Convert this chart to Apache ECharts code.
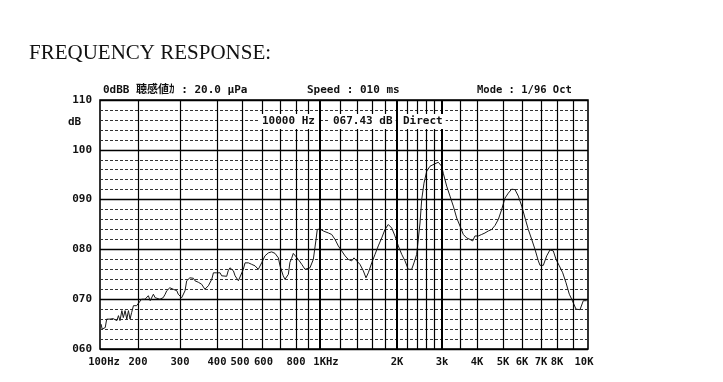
<!DOCTYPE html>
<html><head><meta charset="utf-8">
<script src="https://cdn.jsdelivr.net/npm/echarts@6/dist/echarts.min.js"></script>
<style>html,body{margin:0;padding:0;background:#fff}#c{width:723px;height:382px}</style>
</head><body><div id="c"></div>
<script>
// Printed x scale of the analyzer chart (labelled ticks and their place on the 0-100 scale)
const tickFreqs = [100,200,300,400,500,600,800,1000,2000,3000,4000,5000,6000,7000,8000,10000];
const tickLabels = ['100Hz','200','300','400','500','600','800','1KHz','2K','3k','4K','5K','6K','7K','8K','10K'];
const tickScale = [0,7.79,16.39,23.98,29.10,33.20,40.16,45.08,60.86,70.08,77.25,82.58,86.48,90.37,93.65,100];
// vertical grid lines (Hz)
const gridFreqs = [200,300,400,500,600,700,800,900,1000,1200,1400,1600,1800,2000,2200,2400,2600,2800,3000,3500,4000,5000,6000,7000,8000,9000];
const heavyFreqs = [1000,2000,3000];
// y ticks
const yTicks = [60,70,80,90,100,110];

// measured response (Hz, dB)
const freqs = [102,104,110,113,120,127,136,140,144,149,153,158,163,168,173,178,184,195,201,
207,211,214,218,221,225,232,236,240,247,251,255,260,264,272,277,281,286,291,295,300,
304,308,312,316,324,329,333,337,342,346,355,360,364,369,374,384,389,394,399,
405,411,417,423,436,442,449,456,463,470,477,484,491,
506,514,522,530,546,563,580,589,598,
615,633,651,670,680,689,699,709,718,729,739,750,760,771,782,793,
817,844,870,884,911,940,964,975,1000,
1030,1078,1111,1145,1179,1216,1253,1290,1330,1358,1391,1433,1477,1513,1545,1593,1641,1690,1743,1795,1849,1907,1964,
2024,2087,2149,2214,2234,2283,2331,2388,2423,2461,2499,2551,2614,2693,2817,2902,2992,
3032,3118,3204,3292,3386,3479,3575,3676,3777,3860,3934,
4045,4165,4284,4407,4538,4668,4802,4944,
5097,5261,5435,5610,5791,5983,
6148,6314,6491,6667,6849,6944,
7136,7341,7545,7756,7934,
8133,8335,8535,8741,8893,8995,9173,9440,9556,9667,9786,9906];
const levels = [65.0,64.0,64.3,66.0,66.0,66.1,65.7,66.7,65.7,67.7,66.3,67.7,66.0,67.7,66.0,67.3,68.7,68.7,69.0,
70.0,69.7,70.0,70.1,70.7,69.7,71.0,70.3,70.1,70.0,69.7,70.3,71.0,71.7,72.3,72.7,72.0,72.3,71.7,71.0,70.7,
70.3,70.0,71.7,73.7,74.3,74.0,74.2,73.7,74.0,73.4,73.0,72.7,72.0,72.3,72.7,74.0,75.3,75.7,75.3,
75.0,75.3,74.7,75.0,74.6,75.7,76.3,76.0,75.7,74.7,74.3,73.7,73.3,
76.0,77.3,77.7,77.3,77.0,76.7,76.0,76.3,77.3,
78.7,79.3,79.5,79.2,79.0,78.3,76.7,76.7,74.7,74.0,73.7,75.0,77.4,78.2,79.2,79.0,
78.0,77.0,76.0,75.7,76.3,78.0,82.0,84.0,84.1,
83.7,83.3,83.0,82.0,80.7,79.7,78.7,78.0,77.7,78.3,77.7,77.0,75.7,74.3,75.3,77.3,79.0,80.7,82.3,84.0,85.0,84.3,82.7,
80.7,79.0,77.7,76.0,75.7,76.0,77.3,79.0,79.3,85.3,90.0,93.3,95.7,96.7,97.2,97.5,96.7,
95.3,92.7,90.7,88.7,86.3,84.7,83.0,82.3,82.0,81.7,82.7,
82.7,83.0,83.3,83.7,84.0,84.8,86.0,88.0,
90.3,91.3,92.1,92.0,90.7,88.7,
86.3,84.0,82.0,80.0,77.7,76.8,
76.8,78.7,79.9,79.7,78.0,
76.7,75.3,73.3,71.0,70.0,69.7,68.0,67.9,68.0,69.7,69.3,69.7];

// piecewise-log mapping of a frequency onto the printed scale
function toScale(f){
  for(let i=0;i<tickFreqs.length-1;i++){
    const a=tickFreqs[i], b=tickFreqs[i+1];
    if(f>=a && f<=b){
      const t=Math.log(f/a)/Math.log(b/a);
      return tickScale[i]+t*(tickScale[i+1]-tickScale[i]);
    }
  }
  return f<tickFreqs[0]?0:100;
}

const mono = '"DejaVu Sans Mono", "Noto Sans CJK JP", monospace';
const lblBase = {fontFamily:mono,fontWeight:'bold',fontSize:10.5,color:'#111'};
const chart = echarts.init(document.getElementById('c'), null, {renderer:'canvas'});
chart.setOption({
  animation:false,
  backgroundColor:'#fff',
  grid:{left:100,right:135,top:100,bottom:33,show:true,borderColor:'#000',borderWidth:1.6,backgroundColor:'transparent'},
  xAxis:{
    type:'value',min:0,max:100,
    axisLine:{show:false},axisTick:{show:false},splitLine:{show:false},
    axisLabel:{
      customValues: tickScale,
      formatter:function(v){
        let best=0,bd=1e9;
        tickScale.forEach((s,i)=>{const d=Math.abs(s-v); if(d<bd){bd=d;best=i;}});
        const t=tickLabels[best];
        if(best===0) return '{l|'+t+'}';
        if(best===tickLabels.length-1) return '{r|'+t+'}';
        if(t==='500') return '{r4|'+t+'}';
        if(t==='600') return '{l2|'+t+'}';
        if(t==='1KHz') return '{k|'+t+'}';
        return t;
      },
      rich:{
        l:Object.assign({padding:[0,0,0,8]},lblBase),
        r:Object.assign({padding:[0,8,0,0]},lblBase),
        r4:Object.assign({padding:[0,4,0,0]},lblBase),
        l2:Object.assign({padding:[0,0,0,3]},lblBase),
        k:Object.assign({padding:[0,0,0,12]},lblBase)
      },
      fontFamily:mono,fontWeight:'bold',fontSize:10.5,color:'#111',margin:8,
      showMinLabel:true,showMaxLabel:true
    }
  },
  yAxis:{
    type:'value',min:60,max:110,interval:10,
    axisLine:{show:false},axisTick:{show:false},
    axisLabel:{formatter:v=>String(v).padStart(3,'0'),fontFamily:mono,fontWeight:'bold',fontSize:11,color:'#111',margin:8},
    splitLine:{show:true,lineStyle:{color:'#000',width:1.4}},
    minorTick:{show:false,splitNumber:5},
    minorSplitLine:{show:true,lineStyle:{color:'#333',width:1,type:[3,2]}}
  },
  series:[
    {
      type:'line',data:[],silent:true,z:2,
      markLine:{
        silent:true,symbol:['none','none'],label:{show:false},animation:false,
        data:gridFreqs.map(f=>({xAxis:toScale(f),lineStyle:{color:'#000',type:'solid',width:heavyFreqs.includes(f)?2:1.2}}))
      }
    },
    {
      type:'line',z:3,showSymbol:false,symbol:'none',
      lineStyle:{color:'#1a1a1a',width:1},
      data:freqs.map((f,i)=>[toScale(f),levels[i]])
    }
  ],
  graphic:[
    {type:'text',left:29,top:43,z:10,style:{text:'FREQUENCY RESPONSE:',font:'21px "Liberation Serif", serif',fill:'#111'}},
    {type:'text',left:103,top:85,z:10,style:{text:'0dBB 聴感値ｶ : 20.0 μPa',font:'bold 11px '+mono,fill:'#111'}},
    {type:'text',left:307,top:85,z:10,style:{text:'Speed : 010 ms',font:'bold 11px '+mono,fill:'#111'}},
    {type:'text',left:477,top:85,z:10,style:{text:'Mode : 1/96 Oct',font:'bold 10.5px '+mono,fill:'#111'}},
    {type:'text',left:68,top:117,z:10,style:{text:'dB',font:'bold 11px '+mono,fill:'#111'}},
    {type:'text',left:259,top:114,z:10,style:{text:'10000 Hz',font:'bold 11px '+mono,fill:'#111',backgroundColor:'#fff',padding:[2,3,2,3]}},
    {type:'text',left:330,top:114,z:10,style:{text:'067.43 dB',font:'bold 11px '+mono,fill:'#111',backgroundColor:'#fff',padding:[2,3,2,3]}},
    {type:'text',left:400,top:114,z:10,style:{text:'Direct',font:'bold 11px '+mono,fill:'#111',backgroundColor:'#fff',padding:[2,3,2,3]}}
  ]
});
</script>
</body></html>
